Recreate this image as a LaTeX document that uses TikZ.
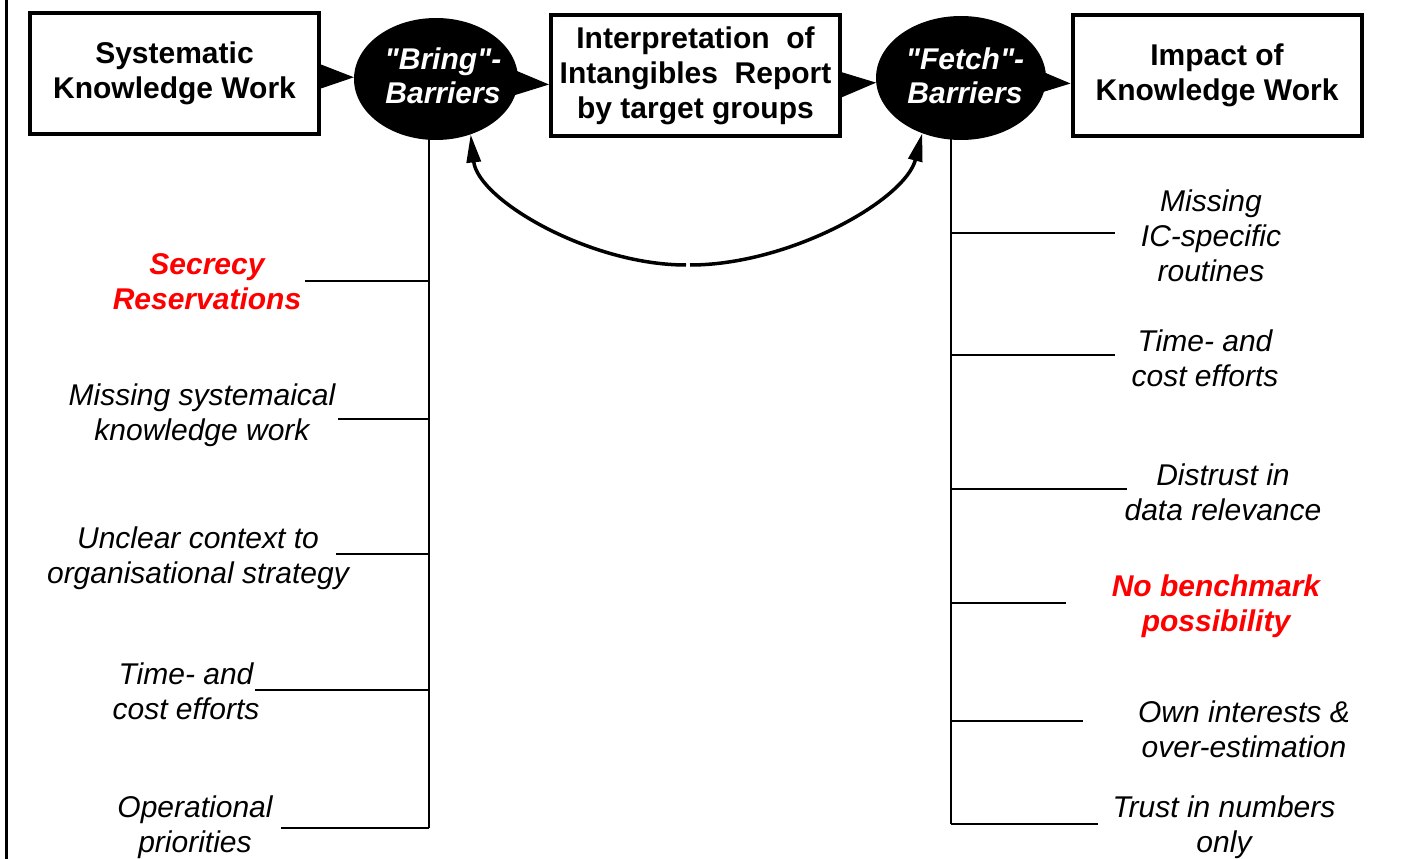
\documentclass[tikz,border=0pt]{standalone}
\usepackage{fontspec}
\setmainfont{Liberation Sans}[Ligatures=TeXOff]
\usetikzlibrary{arrows.meta,shapes.geometric}
\begin{document}
\begin{tikzpicture}[x=1pt,y=-1pt,
  box/.style={draw, line width=4pt, inner sep=0pt, minimum width=289pt, minimum height=121pt, align=center, font=\fontsize{30}{35}\selectfont\bfseries},
  barrier/.style={ellipse, fill=black, inner sep=0pt},
  barriertext/.style={align=center, inner sep=0pt, text=white, font=\fontsize{30}{34}\selectfont\bfseries\itshape},
  flow/.style={line width=1pt, -{Triangle[length=36pt,width=26pt]}},
  cyclearrow/.style={line width=3.5pt, -{Triangle[length=28pt,width=14pt]}},
  trunk/.style={line width=2pt},
  twig/.style={line width=2pt},
  lbl/.style={align=center, inner sep=0pt, font=\fontsize{30}{35}\selectfont\itshape},
  hot/.style={lbl, text=red, font=\fontsize{30}{35}\selectfont\bfseries\itshape},
]
\useasboundingbox (0,0) rectangle (1425,859);
\coordinate (ftop) at (6,0);
\coordinate (fbot) at (6,859);
\draw[line width=3pt] (ftop) -- (fbot);

% boxes and barriers
\node[box] (b1) at (174.5,73.5) {Systematic\\Knowledge Work};
\node[box] (b2) at (695.5,75.5) {Interpretation\ \ of\\Intangibles\ \ Report\\by target groups};
\node[box] (b3) at (1217,75.5) {Impact of\\Knowledge Work};
\node[barrier, minimum width=164pt, minimum height=122pt] (bring) at (436,79) {};
\node[barrier, minimum width=170pt, minimum height=124pt] (fetch) at (961,78) {};
\node[barriertext] (bringtxt) at (443,76) {"Bring"-\\Barriers};
\node[barriertext] (fetchtxt) at (965,76) {"Fetch"-\\Barriers};

% main flow
\draw[flow] (b1) -- (bring);
\draw[flow] (bring) -- ([yshift=-9pt]b2.west);
\draw[flow] ([yshift=-9pt]b2.east) -- (fetch);
\draw[flow] (fetch) -- ([yshift=-8pt]b3.west);

% feedback loop
\coordinate (ml) at (686,265);
\coordinate (mr) at (690,265);
\draw[cyclearrow] (ml) .. controls (590,265) and (478,200) .. (bring.-58);
\draw[cyclearrow] (mr) .. controls (790,265) and (905,200) .. (fetch.-125);

% trunks
\coordinate (bv) at (429,828);
\coordinate (fv) at (951,824);
\draw[trunk] ([yshift=3pt]bring.south -| bv) -- (bv);
\draw[trunk] ([yshift=3pt]fetch.south -| fv) -- (fv);

% left branches
\coordinate (l1) at (305,281);
\coordinate (l2) at (338,419);
\coordinate (l3) at (336,554);
\coordinate (l4) at (255,690);
\coordinate (l5) at (281,828);
\foreach \c in {l1,l2,l3,l4,l5} \draw[twig] (\c) -- (\c -| bv);
\node[hot] (t1) at (207,282) {Secrecy\\Reservations};
\node[lbl] (t2) at (202,415.5) {Missing systemaical\\knowledge work};
\node[lbl] (t3) at (198,558.5) {Unclear context to\\organisational strategy};
\node[lbl] (t4) at (186,691.5) {Time- and\\cost efforts};
\node[lbl] (t5) at (195,827.5) {Operational\\priorities};

% right branches
\coordinate (r1) at (1115,233);
\coordinate (r2) at (1115,355);
\coordinate (r3) at (1127,489);
\coordinate (r4) at (1066,603);
\coordinate (r5) at (1083,721);
\coordinate (r6) at (1098,824);
\foreach \c in {r1,r2,r3,r4,r5,r6} \draw[twig] (\c -| fv) -- (\c);
\node[lbl] (u1) at (1211,236) {Missing\\IC-specific\\routines};
\node[lbl] (u2) at (1205,358.5) {Time- and\\cost efforts};
\node[lbl] (u3) at (1223,492.5) {Distrust in\\data relevance};
\node[hot] (u4) at (1216,606.5) {No benchmark\\possibility};
\node[lbl] (u5) at (1244,729) {Own interests \&\\over-estimation};
\node[lbl] (u6) at (1224,827.5) {Trust in numbers\\only};
\end{tikzpicture}
\end{document}
